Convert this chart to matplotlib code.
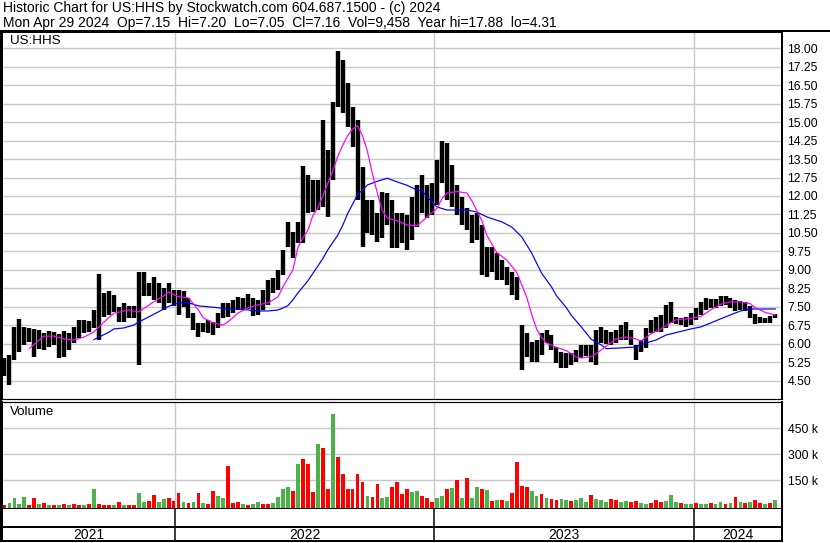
import numpy as np
import pandas as pd
import matplotlib
matplotlib.use("Agg")
import matplotlib.pyplot as plt
import matplotlib.dates as mdates
from matplotlib.ticker import FixedLocator, FuncFormatter

plt.rcParams['font.family'] = ['Liberation Sans', 'DejaVu Sans']

# ---------------- data (weekly) ----------------
first_week = "2021-05-06"

high = [5.42, 5.54, 6.68, 7.01, 6.68, 6.64, 6.60, 6.56, 6.44, 6.52,
        6.48, 6.40, 6.52, 6.44, 6.68, 6.97, 6.97, 6.93, 7.37, 8.83,
        8.06, 8.14, 7.98, 7.50, 7.66, 7.54, 7.54, 8.92, 8.92, 8.47,
        8.71, 8.47, 8.26, 8.47, 8.18, 8.18, 8.14, 7.86, 7.25, 6.84,
        6.84, 6.97, 6.88, 7.25, 7.66, 7.66, 7.78, 7.90, 7.86, 8.02,
        7.86, 7.78, 8.18, 8.59, 8.67, 9.00, 9.81, 10.95, 10.54, 10.95,
        13.22, 12.85, 12.65, 12.65, 15.09, 13.87, 15.82, 17.88, 17.52, 16.59,
        15.62, 15.09, 13.18, 11.84, 11.84, 11.31, 12.16, 12.12, 11.84, 11.31,
        11.31, 11.23, 11.96, 12.45, 12.85, 12.45, 12.53, 13.46, 14.23, 14.15,
        13.26, 12.45, 11.96, 11.51, 11.23, 11.31, 10.82, 9.93, 9.93, 9.69,
        9.41, 9.12, 8.92, 8.71, 6.76, 6.44, 6.07, 6.15, 6.44, 6.56,
        6.35, 5.87, 5.66, 5.62, 5.62, 5.75, 5.95, 5.95, 5.95, 6.56,
        6.68, 6.56, 6.48, 6.56, 6.76, 6.88, 6.56, 5.95, 6.15, 6.64,
        6.97, 7.09, 7.17, 7.58, 7.70, 7.09, 7.05, 7.09, 7.25, 7.46,
        7.70, 7.86, 7.82, 7.82, 7.94, 7.94, 7.86, 7.78, 7.74, 7.70,
        7.54, 7.21, 7.09, 7.05, 7.13, 7.20]

low = [4.69, 4.31, 5.34, 5.66, 5.95, 6.07, 5.46, 5.79, 5.75, 5.87,
       5.95, 5.42, 5.46, 5.75, 6.03, 6.23, 6.44, 6.48, 6.64, 6.15,
       7.09, 7.17, 7.29, 6.88, 6.88, 7.05, 7.05, 5.14, 7.94, 7.94,
       7.78, 7.66, 7.37, 7.66, 7.54, 7.17, 7.50, 7.05, 6.56, 6.27,
       6.48, 6.44, 6.35, 6.64, 7.05, 7.09, 7.25, 7.37, 7.37, 7.41,
       7.13, 7.17, 7.37, 7.58, 8.06, 8.18, 8.79, 9.93, 9.49, 10.09,
       10.09, 11.31, 11.35, 11.43, 11.55, 11.15, 12.65, 15.62, 15.37, 14.80,
       13.99, 11.84, 9.93, 10.50, 10.42, 10.13, 10.30, 10.82, 9.89, 9.89,
       10.09, 9.81, 10.21, 10.74, 11.31, 11.11, 11.23, 11.64, 12.53, 11.84,
       11.55, 11.23, 10.82, 10.62, 10.09, 10.21, 8.79, 8.71, 8.92, 8.59,
       8.59, 8.39, 7.98, 7.78, 4.93, 5.46, 5.26, 5.26, 5.54, 6.03,
       5.75, 5.22, 5.01, 5.01, 5.14, 5.26, 5.42, 5.50, 5.26, 5.14,
       6.03, 5.99, 5.95, 6.03, 6.15, 6.15, 5.95, 5.34, 5.66, 5.83,
       6.44, 6.48, 6.48, 6.64, 6.84, 6.80, 6.76, 6.68, 6.76, 6.97,
       7.17, 7.37, 7.46, 7.46, 7.54, 7.58, 7.46, 7.33, 7.37, 7.33,
       7.05, 6.80, 6.84, 6.84, 6.84, 7.05]

volume_k = [8, 20, 45, 15, 55, 10, 45, 15, 18, 10,
            10, 10, 12, 10, 15, 10, 8, 12, 100, 15,
            10, 8, 10, 26, 8, 8, 10, 78, 25, 32,
            66, 25, 43, 49, 30, 78, 25, 20, 25, 78,
            20, 15, 89, 60, 45, 235, 20, 25, 12, 10,
            12, 25, 15, 12, 20, 54, 100, 112, 90, 245,
            274, 245, 80, 360, 337, 100, 535, 286, 187, 100,
            100, 187, 141, 60, 55, 130, 50, 55, 113, 141,
            72, 100, 83, 89, 60, 45, 25, 50, 60, 100,
            107, 153, 50, 165, 45, 112, 100, 95, 30, 35,
            35, 30, 78, 256, 118, 112, 89, 60, 70, 45,
            40, 35, 40, 35, 30, 35, 45, 25, 66, 40,
            35, 25, 40, 35, 25, 30, 25, 30, 20, 15,
            20, 35, 25, 30, 66, 25, 20, 15, 12, 20,
            15, 12, 20, 15, 25, 15, 20, 54, 25, 20,
            25, 37, 20, 15, 20, 37]

volume_dir = ("rggggrrgrg" "rgrgrrgrgr" "rrgrgrrggr" "rggrrrgrgr" "grrggrrrgr"
              "ggrrggggrg" "rrrgrrgrrr" "rrrgrrggrr" "rrggrrrggr" "grgrggrgrg"
              "rgrrrrggrg" "rrggrgggrg" "ggrrggrrgg" "rrrgggrggr" "ggrggrgrgr"
              "grrgrg")

# moving averages (week number, value)
ma_fast_week = [5, 7, 8, 10, 12, 14, 16, 18, 20, 22, 25, 27, 30, 32, 33, 35, 37, 39, 40, 42,
                44, 45, 47, 49, 51, 53, 55, 56, 58, 59, 60, 61, 62, 63, 64, 65, 66, 67, 68, 69,
                70, 71, 72, 73, 74, 75, 76, 77, 79, 81, 83, 85, 87, 88, 89, 91, 93, 94, 95, 96,
                97, 99, 101, 103, 104, 105, 106, 107, 108, 109, 111, 113, 115, 116, 118, 119, 121, 123, 125, 127,
                128, 130, 132, 134, 135, 137, 140, 142, 144, 146, 148, 150, 151, 153, 155]
ma_fast_val = [5.81, 6.15, 6.31, 6.31, 6.19, 6.15, 6.27, 6.48, 6.88, 7.24, 7.37, 7.29, 7.70, 7.94, 8.10, 7.91, 7.86, 7.37, 7.05, 6.84,
               6.76, 6.90, 7.25, 7.46, 7.58, 7.66, 7.90, 8.31, 9.0, 9.9, 10.3, 10.6, 11.2, 11.5, 12.0, 12.5, 13.0, 13.6, 14.05, 14.45,
               14.72, 14.85, 14.45, 13.8, 12.9, 12.1, 11.4, 11.1, 10.99, 10.82, 10.80, 11.15, 11.5, 11.9, 12.12, 12.18, 12.12, 11.8, 11.4, 11.0,
               10.4, 9.7, 9.4, 8.9, 8.4, 7.9, 7.2, 6.6, 6.25, 6.03, 5.85, 5.72, 5.46, 5.42, 5.48, 5.6, 5.9, 6.2, 6.27, 6.2,
               6.1, 6.4, 6.6, 6.85, 6.97, 7.0, 7.1, 7.37, 7.6, 7.70, 7.70, 7.62, 7.46, 7.27, 7.17]

ma_slow_week = [18, 19, 21, 22, 24, 26, 27, 29, 31, 33, 35, 37, 39, 41, 43, 45, 47, 49, 51, 53,
                55, 56, 57, 58, 59, 61, 62, 63, 64, 65, 67, 68, 69, 71, 73, 75, 77, 79, 81, 83,
                84, 85, 87, 89, 91, 93, 95, 97, 100, 102, 104, 106, 108, 110, 111, 113, 114, 116, 118, 120,
                121, 124, 127, 129, 131, 133, 135, 138, 140, 142, 144, 146, 148, 150, 155]
ma_slow_val = [6.17, 6.27, 6.47, 6.60, 6.64, 6.76, 6.88, 7.09, 7.30, 7.52, 7.66, 7.66, 7.54, 7.50, 7.46, 7.41, 7.41, 7.37, 7.33, 7.33,
               7.37, 7.45, 7.55, 7.78, 8.06, 8.55, 8.85, 9.15, 9.45, 9.81, 10.40, 10.8, 11.28, 12.05, 12.45, 12.60, 12.72, 12.57, 12.43, 12.24,
               12.2, 11.96, 11.55, 11.43, 11.43, 11.43, 11.35, 11.15, 10.95, 10.74, 10.34, 9.69, 8.87, 8.31, 7.95, 7.46, 7.15, 6.68, 6.18, 5.95,
               5.80, 5.83, 5.87, 6.03, 6.15, 6.35, 6.45, 6.60, 6.68, 6.84, 7.01, 7.17, 7.33, 7.41, 7.41]

price_ticks = [4.50, 5.25, 6.00, 6.75, 7.50, 8.25, 9.00, 9.75, 10.50, 11.25, 12.00,
               12.75, 13.50, 14.25, 15.00, 15.75, 16.50, 17.25, 18.00]
volume_ticks = [150000, 300000, 450000]
years = [2021, 2022, 2023, 2024]

title1 = "Historic Chart for US:HHS by Stockwatch.com 604.687.1500 - (c) 2024"
title2 = ("Mon Apr 29 2024  Op=7.15  Hi=7.20  Lo=7.05  Cl=7.16  Vol=9,458  "
          "Year hi=17.88  lo=4.31")

# ---------------- derived ----------------
start = pd.Timestamp(first_week)
n = len(high)
dates = start + pd.to_timedelta(7 * np.arange(n), unit="D")
fast_dates = start + pd.to_timedelta(7 * np.array(ma_fast_week), unit="D")
slow_dates = start + pd.to_timedelta(7 * np.array(ma_slow_week), unit="D")
vol = np.array(volume_k) * 1000.0
vcol = ['#ff0000' if c == 'r' else '#4cb34c' for c in volume_dir]

x_left = start - pd.Timedelta(hours=84)
x_right = x_left + pd.Timedelta(days=1098)
bounds = [pd.Timestamp(f"{y}-01-01") for y in years[1:]]

W, H = 830, 543
fig = plt.figure(figsize=(W / 100, H / 100), dpi=100)
fig.patch.set_facecolor('white')


def rect(x0, y0, x1, y1):
    return [x0 / W, 1 - y1 / H, (x1 - x0) / W, (y1 - y0) / H]


PX = 0.72  # one pixel in points
GRID = '#c8c8c8'

# --- price panel
axp = fig.add_axes(rect(2, 32, 782, 399))
axp.set_xlim(x_left, x_right)
axp.set_ylim(3.755, 18.66)
axp.yaxis.set_major_locator(FixedLocator(price_ticks))
axp.yaxis.set_major_formatter(FuncFormatter(lambda v, p: f"{v:.2f}"))
axp.yaxis.tick_right()
axp.tick_params(axis='y', length=0, pad=4.0, labelsize=8.8, colors='black')
axp.set_xticks([])
axp.grid(axis='y', color=GRID, lw=PX * 1.4)
axp.set_axisbelow(True)
for b in bounds:
    axp.axvline(b, color=GRID, lw=PX * 1.4, zorder=0.5)
axp.vlines(dates, low, high, color='black', lw=PX * 4.4, zorder=2)
axp.plot(slow_dates, ma_slow_val, color='#0000ff', lw=PX * 1.2, zorder=3)
axp.plot(fast_dates, ma_fast_val, color='#ff00ff', lw=PX * 1.2, zorder=3)
for s in ['left', 'right', 'top']:
    axp.spines[s].set_linewidth(PX * 2)
axp.spines['bottom'].set_linewidth(PX * 1.2)
axp.text(8 / 780, 1 - 3 / 367, "US:HHS", transform=axp.transAxes,
         ha='left', va='top', fontsize=9.6)

# --- volume panel
axv = fig.add_axes(rect(2, 402, 782, 509))
axv.set_xlim(x_left, x_right)
vmin = -15600
axv.set_ylim(vmin, 601700)
axv.yaxis.set_major_locator(FixedLocator(volume_ticks))
axv.yaxis.set_major_formatter(FuncFormatter(lambda v, p: f"{int(v / 1000)} k"))
axv.yaxis.tick_right()
axv.tick_params(axis='y', length=0, pad=4.0, labelsize=8.8, colors='black')
axv.set_xticks([])
axv.grid(axis='y', color=GRID, lw=PX * 1.4)
axv.set_axisbelow(True)
for b in bounds:
    axv.axvline(b, color=GRID, lw=PX * 1.4, zorder=0.5)
axv.bar(dates, vol - vmin, bottom=vmin, width=5.4, color=vcol, linewidth=0, zorder=2)
axv.spines['top'].set_linewidth(PX * 1.2)
for s in ['left', 'right', 'bottom']:
    axv.spines[s].set_linewidth(PX * 2)
axv.text(8 / 780, 1 - 4 / 107, "Volume", transform=axv.transAxes,
         ha='left', va='top', fontsize=9.6)

# --- date strip
axb = fig.add_axes(rect(2, 509, 782, 541))
axb.set_xlim(x_left, x_right)
axb.set_ylim(0, 1)
axb.set_xticks([])
axb.set_yticks([])
for s in ['left', 'right', 'bottom']:
    axb.spines[s].set_linewidth(PX * 2)
axb.spines['top'].set_visible(False)
axb.axhline(0.44, color='black', lw=PX * 2)
for b in bounds:
    axb.axvline(b, color='black', lw=PX * 1.5)
edges = [mdates.date2num(x_left)] + [mdates.date2num(b) for b in bounds] + [mdates.date2num(x_right)]
for i, y in enumerate(years):
    axb.text((edges[i] + edges[i + 1]) / 2, 0.2, str(y), ha='center', va='center', fontsize=10)

# --- title block
fig.text(3 / W, 1 - 1 / H, title1, ha='left', va='top', fontsize=10)
fig.text(3 / W, 1 - 15.5 / H, title2, ha='left', va='top', fontsize=10)
fig.add_artist(plt.Line2D([0, 1], [1 - 31 / H, 1 - 31 / H], color='black', lw=PX * 2))
fig.add_artist(plt.Line2D([1 / W, 1 / W], [1 - 31 / H, 1 - 541 / H], color='black', lw=PX * 2))

fig.savefig("out.png", dpi=100, facecolor='white')
